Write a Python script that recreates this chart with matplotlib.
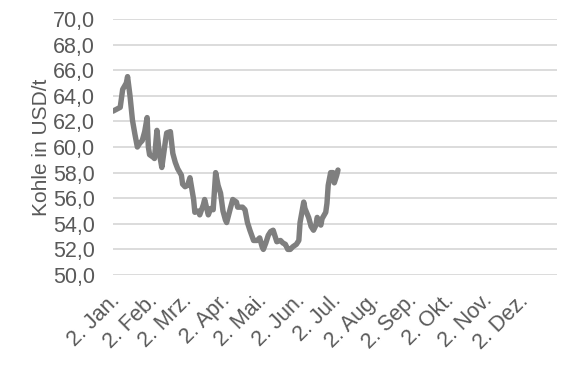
import matplotlib
matplotlib.use("Agg")
import matplotlib.pyplot as plt
from matplotlib.transforms import ScaledTranslation
import pandas as pd

# Kohlepreis 2019 (USD/t)
dates = [
    "2019-01-02", "2019-01-04", "2019-01-08", "2019-01-10", "2019-01-13", "2019-01-14",
    "2019-01-16", "2019-01-18", "2019-01-20", "2019-01-22", "2019-01-24", "2019-01-26",
    "2019-01-28", "2019-01-30", "2019-01-31", "2019-02-01", "2019-02-04", "2019-02-05",
    "2019-02-07", "2019-02-09", "2019-02-11", "2019-02-14", "2019-02-15", "2019-02-18",
    "2019-02-20", "2019-02-22", "2019-02-24", "2019-02-27", "2019-02-28", "2019-03-02",
    "2019-03-04", "2019-03-06", "2019-03-09", "2019-03-10", "2019-03-13", "2019-03-14",
    "2019-03-17", "2019-03-18", "2019-03-21", "2019-03-23", "2019-03-25", "2019-03-27",
    "2019-03-29", "2019-03-31", "2019-04-02", "2019-04-04", "2019-04-05", "2019-04-08",
    "2019-04-10", "2019-04-13", "2019-04-14", "2019-04-18", "2019-04-20", "2019-04-22",
    "2019-04-24", "2019-04-27", "2019-04-30", "2019-05-02", "2019-05-04", "2019-05-05",
    "2019-05-07", "2019-05-09", "2019-05-11", "2019-05-13", "2019-05-15", "2019-05-16",
    "2019-05-19", "2019-05-21", "2019-05-23", "2019-05-25", "2019-05-27", "2019-05-29",
    "2019-06-01", "2019-06-03", "2019-06-04", "2019-06-07", "2019-06-08", "2019-06-11",
    "2019-06-13", "2019-06-15", "2019-06-17", "2019-06-18", "2019-06-21", "2019-06-22",
    "2019-06-25", "2019-06-26", "2019-06-27", "2019-06-29", "2019-07-01", "2019-07-02",
    "2019-07-04", "2019-07-05",
]
prices = [
    62.8, 62.9, 63.1, 64.5, 65.0, 65.5,
    64.0, 62.1, 61.0, 60.0, 60.3, 60.5,
    61.2, 62.3, 60.0, 59.4, 59.2, 59.1,
    61.3, 59.5, 58.4, 60.5, 61.1, 61.2,
    59.5, 58.8, 58.3, 57.8, 57.1, 56.9,
    57.0, 57.6, 55.9, 54.9, 55.0, 54.7,
    55.5, 55.9, 54.7, 55.2, 55.1, 58.0,
    57.0, 56.4, 55.0, 54.3, 54.1, 55.2,
    55.9, 55.7, 55.3, 55.3, 55.1, 54.1,
    53.5, 52.7, 52.7, 52.9, 52.2, 52.0,
    52.5, 53.1, 53.4, 53.5, 52.9, 52.6,
    52.7, 52.5, 52.4, 52.0, 52.0, 52.2,
    52.4, 52.7, 54.1, 55.7, 55.2, 54.5,
    53.8, 53.5, 53.9, 54.5, 53.9, 54.4,
    54.9, 55.6, 57.0, 58.0, 58.0, 57.2,
    57.8, 58.2,
]
month_names = ["Jan.", "Feb.", "Mrz.", "Apr.", "Mai.", "Jun.",
               "Jul.", "Aug.", "Sep.", "Okt.", "Nov.", "Dez."]
y_ticks = [50, 52, 54, 56, 58, 60, 62, 64, 66, 68, 70]

plt.rcParams["font.family"] = ["Liberation Sans", "DejaVu Sans"]
text_color = "#595959"

fig = plt.figure(figsize=(5.73, 3.69), dpi=100)
ax = fig.add_axes([0.197, 0.2547, 0.775, 0.6938])

x = pd.to_datetime(dates)
ax.plot(x, prices, color="#7f7f7f", linewidth=3.9, solid_joinstyle="round",
        solid_capstyle="round")

ax.set_ylim(50, 70)
ax.set_yticks(y_ticks)
ax.set_yticklabels([f"{v:.1f}".replace(".", ",") for v in y_ticks])
ax.grid(axis="y", color="#d9d9d9", linewidth=1.3)
ax.set_axisbelow(True)

# Ticks jeweils am 2. des Monats
tick_dates = pd.date_range("2019-01-01", periods=12, freq="MS") + pd.Timedelta(days=1)
ax.set_xlim(pd.Timestamp("2019-01-02"), pd.Timestamp("2019-12-31"))
ax.set_xticks(tick_dates)
ax.set_xticklabels([f"2. {m}" for m in month_names], rotation=45,
                   ha="right", va="center", rotation_mode="anchor")

for s in ax.spines.values():
    s.set_visible(False)
ax.tick_params(axis="both", length=0, labelsize=15.5, colors=text_color)
ax.tick_params(axis="y", pad=13)
ax.tick_params(axis="x", pad=14)

# Beschriftungen leicht nach rechts unten versetzen (wie Excel)
offset = ScaledTranslation(4 / 100, -3 / 100, fig.dpi_scale_trans)
for lbl in ax.get_xticklabels():
    lbl.set_transform(lbl.get_transform() + offset)

ax.set_ylabel("Kohle in USD/t", fontsize=15, color=text_color, labelpad=1)

fig.savefig("out.png", dpi=100)
